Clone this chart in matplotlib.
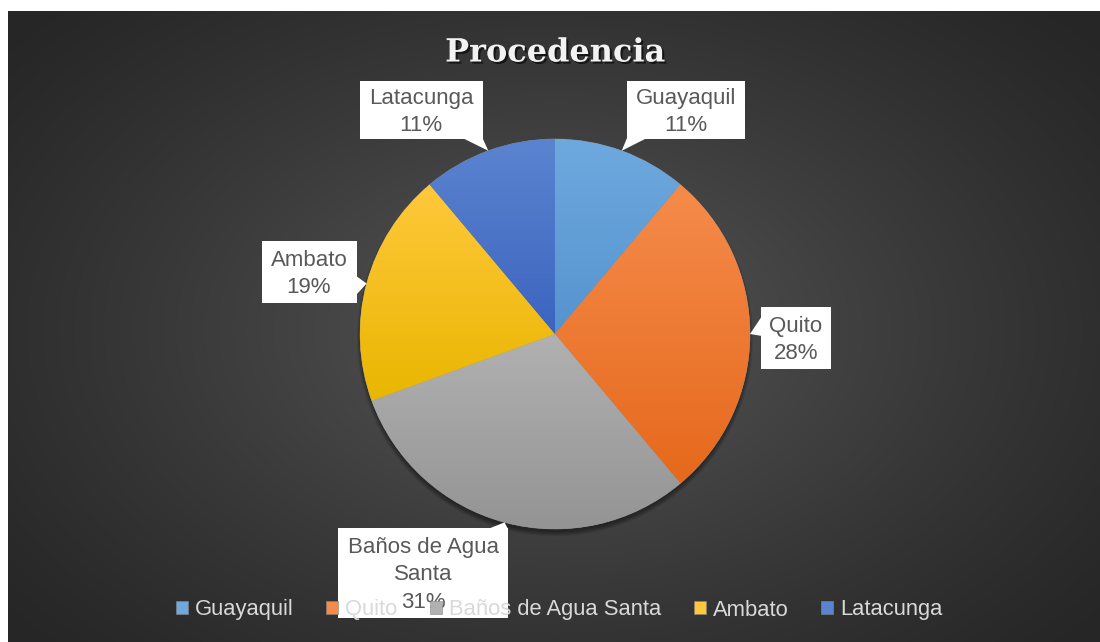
import numpy as np
import matplotlib
matplotlib.use('Agg')
import matplotlib.pyplot as plt
import matplotlib.patheffects as pe
from matplotlib.patches import Rectangle, Polygon, Circle

# data: respondents by city of origin
names = ['Guayaquil', 'Quito', 'Baños de Agua Santa', 'Ambato', 'Latacunga']
counts = [4, 10, 11, 7, 4]
box_text = ['Guayaquil', 'Quito', 'Baños de Agua\nSanta', 'Ambato', 'Latacunga']

# colours (top of gradient, bottom of gradient)
tops = ['#6ea9de', '#f58b4b', '#b1b1b1', '#ffc83c', '#5b84d0']
bottoms = ['#5693cf', '#e6691c', '#949494', '#e9b600', '#3c64bf']

W, H = 1100, 642
# label box centres / sizes in pixels (top-down)
box_pos = [(686, 110), (796, 338), (423, 573), (309, 272), (421, 110)]
box_size = [(118, 58), (70, 62), (170, 90), (95, 62), (123, 58)]


def Y(y):
    return H - y


fig = plt.figure(figsize=(W / 100, H / 100), dpi=100, facecolor='white')
ax = fig.add_axes([0, 0, 1, 1])
ax.set_axis_off()

# radial background
gx, gy = np.meshgrid(np.linspace(8, W, 400), np.linspace(11, H, 240))
d = np.sqrt(((gx - 555) / 720) ** 2 + ((gy - 330) / 470) ** 2)
d = np.clip(d, 0, 1)
shade = (0x26 + (0x57 - 0x26) * (1 - d) ** 1.2) / 255
bg = np.dstack([shade, shade, shade])
ax.imshow(bg, extent=(8, W, Y(H), Y(11)), origin='upper', aspect='auto', zorder=0)

cx, cy, r = 555, Y(334), 195

# pie shadow, mostly below the pie
for i in range(8):
    ax.add_patch(Circle((cx, cy - 4), r - 1 + i * 0.6, facecolor='black',
                        edgecolor='none', alpha=0.05, zorder=1))

wedges, _ = ax.pie(counts, startangle=90, counterclock=False, center=(cx, cy),
                   radius=r, colors=tops,
                   wedgeprops=dict(edgecolor='#888888', linewidth=0.4, zorder=2))

for w, c_top, c_bot in zip(wedges, tops, bottoms):
    ext = w.get_path().get_extents()
    t = np.array(matplotlib.colors.to_rgb(c_top))
    b = np.array(matplotlib.colors.to_rgb(c_bot))
    f = np.linspace(0, 1, 100)[:, None]
    grad = (b + (t - b) * f)[:, None, :]
    im = ax.imshow(grad, extent=(ext.x0, ext.x1, ext.y0, ext.y1), origin='lower',
                   aspect='auto', zorder=3)
    im.set_clip_path(w)

total = sum(counts)
for w, txt, n, (bx, by), (bw, bh) in zip(wedges, box_text, counts, box_pos, box_size):
    mid = np.deg2rad((w.theta1 + w.theta2) / 2)
    tx, ty = cx + r * np.cos(mid), cy + r * np.sin(mid)
    x0, x1 = bx - bw / 2, bx + bw / 2
    y1, y0 = Y(by - bh / 2), Y(by + bh / 2)
    ax.add_patch(Rectangle((x0, y0), bw, bh, facecolor='white', edgecolor='none', zorder=5))
    # callout pointer
    half = 10
    if ty < y0:
        px = np.clip(tx, x0 + half, x1 - half)
        base = [(px - half, y0 + 1), (px + half, y0 + 1)]
    elif ty > y1:
        px = np.clip(tx, x0 + half, x1 - half)
        base = [(px - half, y1 - 1), (px + half, y1 - 1)]
    elif tx < x0:
        py = np.clip(ty + 8, y0 + half, y1 - half)
        base = [(x0 + 1, py - half), (x0 + 1, py + half)]
    else:
        py = np.clip(ty - 2, y0 + half, y1 - half)
        base = [(x1 - 1, py - half), (x1 - 1, py + half)]
    ax.add_patch(Polygon(base + [(tx, ty)], closed=True, facecolor='white',
                         edgecolor='none', zorder=5))
    pct = round(100 * n / total)
    ax.text(bx, Y(by + 2), f'{txt}\n{pct}%', ha='center', va='center', fontsize=16,
            color='#595959', family='Liberation Sans', linespacing=1.38, zorder=6)

ax.text(555, Y(53), 'Procedencia', ha='center', va='center', fontsize=23,
        fontweight='bold', family='DejaVu Serif', color='#f2f2f2', zorder=6,
        path_effects=[pe.withSimplePatchShadow(offset=(1.5, -1.5), shadow_rgbFace='black', alpha=0.6)])

leg = ax.legend(wedges, names, loc='center', bbox_to_anchor=(559 / W, Y(610) / H),
                bbox_transform=fig.transFigure, ncol=5, frameon=False,
                prop=dict(family='Liberation Sans', size=15.8), labelcolor='#d9d9d9',
                handlelength=0.55, handleheight=0.55, handletextpad=0.3,
                columnspacing=1.5, borderpad=0)
leg.set_zorder(10)

ax.set_xlim(0, W)
ax.set_ylim(0, H)
fig.savefig('out.png', dpi=100, facecolor='white')
